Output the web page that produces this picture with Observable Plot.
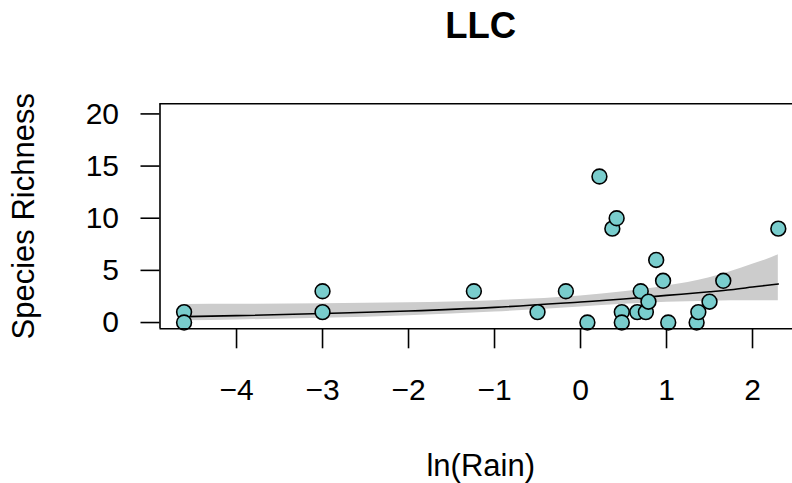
<!DOCTYPE html>
<html>
<head>
<meta charset="utf-8">
<script src="https://cdn.jsdelivr.net/npm/d3@7"></script>
<script src="https://cdn.jsdelivr.net/npm/@observablehq/plot@0.6"></script>
<style>
  html, body { margin: 0; padding: 0; background: #ffffff; }
  #chart { width: 792px; height: 483px; overflow: hidden; }
</style>
</head>
<body>
<div id="chart"></div>
<script>
// Observed points: ln(Rain) vs species richness
const lnRain = [-4.61, -4.61, -3.0, -3.0, -1.24, -0.50, -0.17, 0.08, 0.22, 0.37, 0.42, 0.48, 0.48, 0.66, 0.70, 0.76, 0.79, 0.88, 0.96, 1.02, 1.35, 1.37, 1.50, 1.66, 2.30];
const richness = [1, 0, 3, 1, 3, 1, 3, 0, 14, 9, 10, 1, 0, 1, 3, 1, 2, 6, 4, 0, 0, 1, 2, 4, 9];

// Fitted curve and confidence band
const fitX     = [-4.6, -4.0, -3.0, -2.0, -1.0, 0.0, 0.5, 1.0, 1.5, 1.75, 2.0, 2.15, 2.3];
const fitY     = [0.56, 0.66, 0.86, 1.10, 1.45, 1.97, 2.25, 2.60, 2.95, 3.15, 3.40, 3.55, 3.70];
const fitLower = [0.18, 0.25, 0.40, 0.65, 1.00, 1.50, 1.75, 1.95, 2.05, 2.08, 2.10, 2.10, 2.10];
const fitUpper = [1.73, 1.75, 1.80, 1.90, 2.10, 2.55, 2.95, 3.50, 4.30, 4.90, 5.60, 6.00, 6.50];

const xTicks = [-4, -3, -2, -1, 0, 1, 2];
const yTicks = [0, 5, 10, 15, 20];

const title = "LLC";
const xLabel = "ln(Rain)";
const yLabel = "Species Richness";

const xDomain = [-4.89, 2.465];
const yDomain = [-0.6, 20.97];

const points = lnRain.map((x, i) => ({x, y: richness[i]}));
const fit = fitX.map((x, i) => ({x, y: fitY[i], lo: fitLower[i], hi: fitUpper[i]}));

const font = "'Liberation Sans', Arial, Helvetica, sans-serif";

const chart = Plot.plot({
  width: 792,
  height: 483,
  marginLeft: 159.5,
  marginRight: 0,
  marginTop: 103.3,
  marginBottom: 154.7,
  style: {fontFamily: font, fontSize: "30px", background: "#ffffff", color: "#000000"},
  x: {domain: xDomain},
  y: {domain: yDomain},
  marks: [
    Plot.areaY(fit, {x: "x", y1: "lo", y2: "hi", fill: "#cccccc", curve: "monotone-x"}),
    Plot.lineY(fit, {x: "x", y: "y", stroke: "#000000", strokeWidth: 1.6, curve: "monotone-x"}),
    Plot.dot(points, {x: "x", y: "y", r: 7.4, fill: "#79CDCD", stroke: "#000000", strokeWidth: 1.6}),
    Plot.ruleY([yDomain[0], yDomain[1]], {stroke: "#000000", strokeWidth: 1.6}),
    Plot.ruleX([xDomain[0]], {stroke: "#000000", strokeWidth: 1.6}),
    Plot.axisX({ticks: xTicks, tickSize: 20, tickPadding: 30, fontSize: 30, strokeWidth: 1.6, label: null, anchor: "bottom"}),
    Plot.axisY({ticks: yTicks, tickSize: 19, tickPadding: 22, fontSize: 30, strokeWidth: 1.6, label: null, anchor: "left"}),
    Plot.text([title], {frameAnchor: "top", dx: 4.5, dy: -65.6, lineAnchor: "bottom", textAnchor: "middle", fontSize: 36.5, fontWeight: "bold", fill: "#000000"}),
    Plot.text([xLabel], {frameAnchor: "bottom", dx: 4.5, dy: 146.7, lineAnchor: "bottom", textAnchor: "middle", fontSize: 31, fill: "#000000"}),
    Plot.text([yLabel], {frameAnchor: "left", dx: -126.5, rotate: -90, lineAnchor: "bottom", textAnchor: "middle", fontSize: 31, fill: "#000000"})
  ]
});
document.getElementById("chart").appendChild(chart);
</script>
</body>
</html>
